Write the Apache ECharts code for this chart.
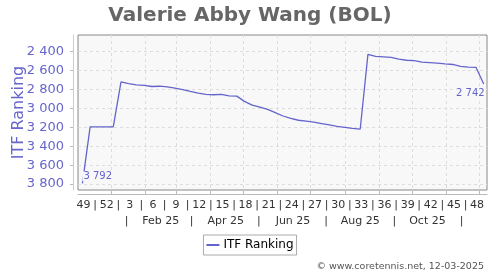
<!DOCTYPE html>
<html><head><meta charset="utf-8">
<script src="https://cdn.jsdelivr.net/npm/echarts@6/dist/echarts.min.js"></script>
<style>html,body{margin:0;padding:0;background:#fff}#c{width:500px;height:270px}</style>
</head><body><div id="c"></div>
<script>
// Days are counted from 1 Jan 2025 (day 0)
const pointDays = [-26,-19,-12,-5,2,9,16,23,30,37,44,51,58,65,72,79,86,93,100,107,114,121,128,135,142,149,156,163,170,177,184,191,198,205,212,219,226,233,240,247,254,261,268,275,282,289,296,303,310,317,324,331,338];
const ranking = [3792,3195,3195,3195,3195,2718,2738,2750,2755,2768,2765,2772,2785,2800,2820,2838,2852,2855,2852,2868,2870,2925,2965,2985,3010,3045,3080,3105,3125,3135,3145,3160,3175,3190,3200,3212,3218,2428,2450,2455,2460,2478,2490,2495,2510,2515,2520,2528,2535,2555,2562,2565,2742];
const weekLabels = ['49','52','3','6','9','12','15','18','21','24','27','30','33','36','39','42','45','48'];
const weekLabelDays = [-25,-4,17,38,59,80,101,122,143,164,185,206,227,248,269,290,311,332];
const monthStartDays = [0,31,59,90,120,151,181,212,243,273,304,334];
const monthLabels = ['|','Feb 25','|','Apr 25','|','Jun 25','|','Aug 25','|','Oct 25','|'];
const monthLabelDays = [14,45,73,104,134,165,195,226,257,287,318];
const yTicks = [2400,2600,2800,3000,3200,3400,3600,3800];
const xMin = -30, xMax = 341, yMin = 2223, yMax = 3863;

function fmt(v){ return String(v).replace(/\B(?=(\d{3})+(?!\d))/g,' '); }

const weekVals = [], weekText = {};
weekLabelDays.forEach((d,i)=>{ weekVals.push(d); weekText[d]=weekLabels[i];
  if(i<weekLabelDays.length-1){ const m=(d+weekLabelDays[i+1])/2; weekVals.push(m); weekText[m]='|'; }});
const monthText = {}; monthLabelDays.forEach((d,i)=>monthText[d]=monthLabels[i]);

const data = pointDays.map((d,i)=>[d, ranking[i]]);
const last = data.length-1;

const chart = echarts.init(document.getElementById('c'), null, {renderer:'canvas'});
chart.setOption({
  animation:false,
  textStyle:{fontFamily:'DejaVu Sans'},
  title:[{text:'Valerie Abby Wang (BOL)', left:'center', top:1,
    textStyle:{fontFamily:'DejaVu Sans', fontWeight:'bold', fontSize:20, color:'#666'}},
    {text:'© www.coretennis.net, 12-03-2025', right:11, top:257,
    textStyle:{fontFamily:'DejaVu Sans', fontWeight:'normal', fontSize:9.5, color:'#555'}}],
  grid:{left:78, top:35, right:13, bottom:80, show:true, backgroundColor:'#f8f8f8', borderColor:'#888', borderWidth:1,
    containLabel:false, outerBoundsMode:'none'},
  legend:{data:['ITF Ranking'], left:'center', top:235, icon:'rect', itemWidth:13, itemHeight:2, itemGap:5,
    borderColor:'#aaa', borderWidth:1, borderRadius:0, padding:[4,3,4,3],
    textStyle:{fontFamily:'DejaVu Sans', fontSize:12, color:'#000', padding:[0,0,0,-1]}},
  xAxis:[{type:'value', min:xMin, max:xMax, position:'bottom', offset:4,
    axisLine:{show:true, onZero:false, lineStyle:{color:'#bbb'}},
    axisTick:{show:true, customValues:monthStartDays, inside:true, length:3, lineStyle:{color:'#bbb'}},
    splitLine:{show:true, lineStyle:{color:'#ddd', type:[3,3]}},
    axisLabel:{customValues:weekVals, margin:6, fontSize:11, color:'#333', formatter:v=>weekText[v]}},
   {type:'value', min:xMin, max:xMax, position:'bottom', offset:22,
    axisLine:{show:false, onZero:false}, axisTick:{show:false}, splitLine:{show:false},
    axisLabel:{customValues:monthLabelDays, margin:4, fontSize:11, color:'#333', formatter:v=>monthText[v]}}],
  yAxis:{type:'value', inverse:true, min:yMin, max:yMax, offset:5,
    name:'ITF Ranking', nameLocation:'middle', nameGap:46, nameMoveOverlap:false,
    nameTextStyle:{fontFamily:'DejaVu Sans', fontSize:16, color:'#6666cc'},
    axisLine:{show:true, onZero:false, lineStyle:{color:'#ccc'}},
    axisTick:{show:true, customValues:yTicks, length:3, lineStyle:{color:'#bbb'}},
    splitLine:{show:true, lineStyle:{color:'#ddd', type:[3,3]}},
    axisLabel:{customValues:yTicks, margin:9, fontSize:13, color:'#6666cc', formatter:v=>fmt(v)}},
  series:[{name:'ITF Ranking', type:'line', xAxisIndex:0, data:data, showSymbol:false, symbol:'none',
    lineStyle:{color:'#6464cc', width:1.3}, itemStyle:{color:'#6464cc'},
    markPoint:{symbol:'circle', symbolSize:0,
      data:[{coord:data[0], value:ranking[0], label:{position:'right', offset:[-5,-7]}},
            {coord:data[last], value:ranking[last], label:{position:'left', offset:[7,9]}}],
      label:{show:true, fontSize:10, color:'#6464cc', fontFamily:'DejaVu Sans', formatter:p=>fmt(p.value),
        backgroundColor:'#f8f8f8', padding:[0,1]}}}]
});
</script></body></html>
